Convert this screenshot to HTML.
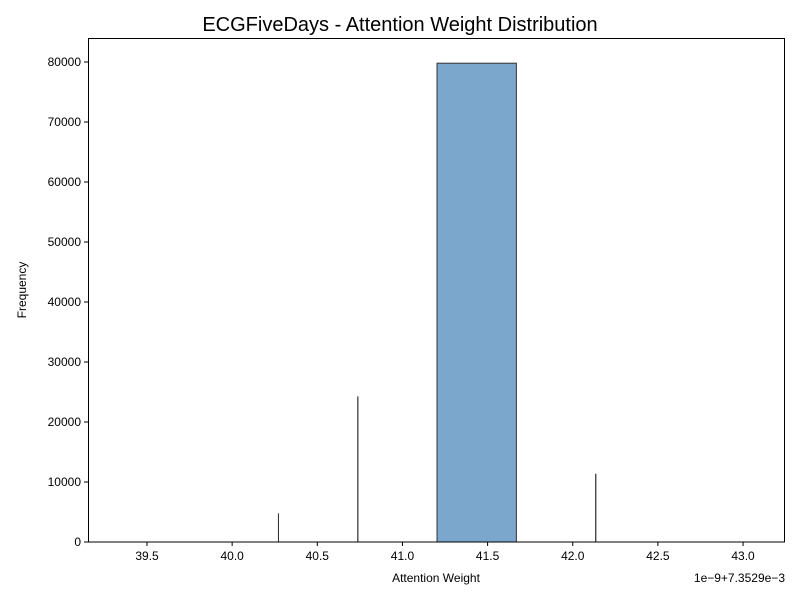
<!DOCTYPE html>
<html><head><meta charset="utf-8"><style>
body{margin:0;background:#fff;font-family:"Liberation Sans",sans-serif}
</style></head><body>
<svg width="800" height="600" font-family="Liberation Sans, sans-serif">
<text x="400" y="31" font-size="20" text-anchor="middle">ECGFiveDays - Attention Weight Distribution</text>
<g id="bars"></g>
<rect x="88.5" y="38.5" width="696" height="503.5" fill="none" stroke="#000" stroke-width="1"/>
<g id="xt" font-size="12"></g><g id="yt" font-size="12"></g>
<text x="436" y="582" font-size="12" text-anchor="middle">Attention Weight</text>
<text x="26" y="290" font-size="12" text-anchor="middle" transform="rotate(-90 26 290)">Frequency</text>
<text x="785" y="582" font-size="12" text-anchor="end">1e−9+7.3529e−3</text>
</svg>
<script>
const binLefts=[39.341,39.806,40.272,40.738,41.203,41.669,42.135,42.600];
const binWidths=[0.465,0.466,0,0,0.466,0,0,0.466];
const counts=[0,0,4700,24200,79800,0,11300,0];
const xTicks=[39.5,40.0,40.5,41.0,41.5,42.0,42.5,43.0];
const yTicks=[0,10000,20000,30000,40000,50000,60000,70000,80000];
const X=v=>147+(v-39.5)*170.3;
const Y=v=>542-v*0.006;
const NS="http://www.w3.org/2000/svg";
const bars=document.getElementById('bars');
counts.forEach((c,i)=>{
 const r=document.createElementNS(NS,'rect');
 const x=X(binLefts[i]),w=binWidths[i]*170.3;
 r.setAttribute('x',x);r.setAttribute('y',Y(c));
 r.setAttribute('width',Math.max(w,0.01));r.setAttribute('height',542-Y(c));
 r.setAttribute('fill','#7ba7cc');r.setAttribute('stroke','#333');r.setAttribute('stroke-width','1');
 
 
 bars.appendChild(r);
 if(binWidths[i]===0&&c>0){const l=document.createElementNS(NS,'line');
 l.setAttribute('x1',x);l.setAttribute('x2',x);l.setAttribute('y1',Y(c));l.setAttribute('y2',542);
 l.setAttribute('stroke','#333');
 
 
 bars.appendChild(l);}
});
const xt=document.getElementById('xt');
xTicks.forEach(t=>{const x=X(t);
 const l=document.createElementNS(NS,'line');l.setAttribute('x1',x);l.setAttribute('x2',x);l.setAttribute('y1',542);l.setAttribute('y2',546);l.setAttribute('stroke','#000');
 
 
 xt.appendChild(l);
 const s=document.createElementNS(NS,'text');s.setAttribute('x',x);s.setAttribute('y',560);s.setAttribute('text-anchor','middle');s.textContent=t.toFixed(1);
 
 
 xt.appendChild(s);});
const yt=document.getElementById('yt');
yTicks.forEach(t=>{const y=Y(t);
 const l=document.createElementNS(NS,'line');l.setAttribute('x1',84);l.setAttribute('x2',88);l.setAttribute('y1',y);l.setAttribute('y2',y);l.setAttribute('stroke','#000');
 
 
 yt.appendChild(l);
 const s=document.createElementNS(NS,'text');s.setAttribute('x',81);s.setAttribute('y',y+4);s.setAttribute('text-anchor','end');s.textContent=t;
 
 
 yt.appendChild(s);});
</script>
</body></html>
